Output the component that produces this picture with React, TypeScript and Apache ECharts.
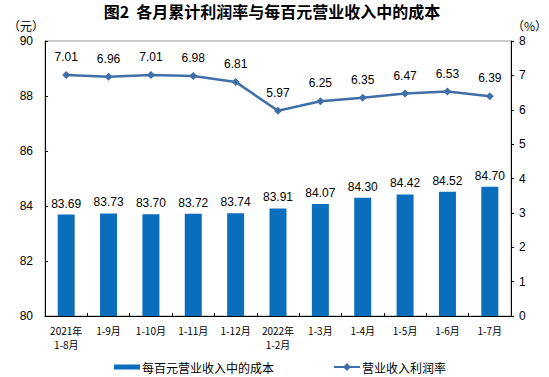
import React, { useEffect, useRef } from "react";
import * as echarts from "echarts";

const categories = [
  "2021年\n1-8月",
  "1-9月",
  "1-10月",
  "1-11月",
  "1-12月",
  "2022年\n1-2月",
  "1-3月",
  "1-4月",
  "1-5月",
  "1-6月",
  "1-7月",
];
const costPerHundred = [83.69, 83.73, 83.7, 83.72, 83.74, 83.91, 84.07, 84.3, 84.42, 84.52, 84.7];
const profitRate = [7.01, 6.96, 7.01, 6.98, 6.81, 5.97, 6.25, 6.35, 6.47, 6.53, 6.39];
const leftTicks = [80, 90, 2];
const rightTicks = [0, 8, 1];

const FONT = "'Liberation Sans', 'Noto Sans CJK SC', sans-serif";
const CJK = "'Noto Sans CJK SC', sans-serif";

export default function App() {
  const ref = useRef<HTMLDivElement>(null);
  useEffect(() => {
    if (!ref.current) return;
    const chart = echarts.init(ref.current, undefined, { renderer: "svg" });
    chart.setOption({
      animation: false,
      backgroundColor: "#fff",
      textStyle: { fontFamily: FONT },
      graphic: [
        {
          type: "text",
          x: 272,
          y: 3,
          style: {
            text: "图2  各月累计利润率与每百元营业收入中的成本",
            font: `bold 16px ${CJK}`,
            fill: "#000",
            textAlign: "center",
            textVerticalAlign: "top",
          },
        },
        {
          type: "text",
          left: 8,
          top: 19,
          style: { text: "（元）", font: `12px ${CJK}`, fill: "#000" },
        },
        {
          type: "text",
          left: 512,
          top: 19,
          style: { text: "（%）", font: `12px ${CJK}`, fill: "#000" },
        },
      ],
      grid: {
        left: 45,
        right: 38,
        top: 41,
        bottom: 61,
        show: true,
        borderColor: "#999",
        borderWidth: 1,
        containLabel: false,
      },
      legend: [
        {
          data: [{ name: "每百元营业收入中的成本", icon: "rect" }],
          left: 109,
          top: 356,
          itemWidth: 26,
          itemHeight: 5,
          textStyle: { fontFamily: CJK, fontSize: 12, color: "#000", padding: [0, 0, 0, -3] },
        },
        {
          data: ["营业收入利润率"],
          left: 328,
          top: 356,
          itemWidth: 26,
          itemHeight: 10,
          textStyle: { fontFamily: CJK, fontSize: 12, color: "#000", padding: [0, 0, 0, -3] },
        },
      ],
      xAxis: {
        type: "category",
        data: categories,
        axisLine: { lineStyle: { color: "#000", width: 1 } },
        axisTick: { show: true, inside: true, length: 3, lineStyle: { color: "#000" } },
        axisLabel: {
          color: "#000",
          fontSize: 10,
          fontFamily: CJK,
          margin: 7,
          lineHeight: 14,
          interval: 0,
        },
      },
      yAxis: [
        {
          type: "value",
          min: leftTicks[0],
          max: leftTicks[1],
          interval: leftTicks[2],
          splitLine: { show: false },
          axisLine: { show: true, lineStyle: { color: "#000" } },
          axisTick: { show: true, inside: true, length: 3, lineStyle: { color: "#000" } },
          axisLabel: { color: "#000", fontSize: 12, margin: 12 },
        },
        {
          type: "value",
          min: rightTicks[0],
          max: rightTicks[1],
          interval: rightTicks[2],
          splitLine: { show: false },
          axisLine: { show: true, lineStyle: { color: "#000" } },
          axisTick: { show: true, inside: false, length: 3, lineStyle: { color: "#000" } },
          axisLabel: { color: "#000", fontSize: 12, margin: 8 },
        },
      ],
      series: [
        {
          name: "每百元营业收入中的成本",
          type: "bar",
          yAxisIndex: 0,
          data: costPerHundred,
          barWidth: 17,
          itemStyle: { color: "#0a6ebd" },
          label: {
            show: true,
            position: "top",
            distance: 5,
            color: "#000",
            fontSize: 12,
            formatter: (p: any) => Number(p.value).toFixed(2),
          },
        },
        {
          name: "营业收入利润率",
          type: "line",
          yAxisIndex: 1,
          data: profitRate,
          symbol: "diamond",
          symbolSize: 8,
          lineStyle: { color: "#3f6fa8", width: 2.5 },
          itemStyle: { color: "#3f6fa8" },
          label: {
            show: true,
            position: "top",
            distance: 8,
            color: "#000",
            fontSize: 12,
            formatter: (p: any) => Number(p.value).toFixed(2),
          },
        },
      ],
    });
    return () => chart.dispose();
  }, []);
  return (
    <div
      ref={ref}
      style={{ width: 549, height: 377, position: "fixed", left: 0, top: 0 }}
    />
  );
}
